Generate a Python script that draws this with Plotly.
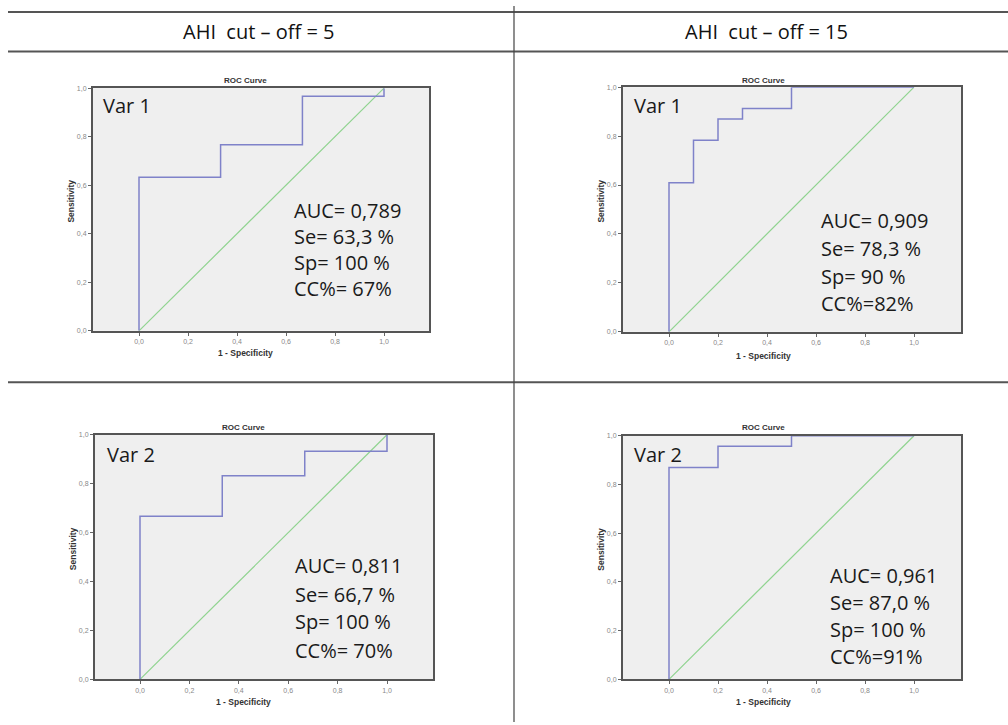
import plotly.graph_objects as go

W, H = 1008, 725

# ---------------- data ----------------
headers = ["AHI  cut – off = 5", "AHI  cut – off = 15"]
panel_labels = ["Var 1", "Var 1", "Var 2", "Var 2"]
chart_title = "ROC Curve"
x_title = "1 - Specificity"
y_title = "Sensitivity"
tick_vals = [0.0, 0.2, 0.4, 0.6, 0.8, 1.0]
tick_text = ["0,0", "0,2", "0,4", "0,6", "0,8", "1,0"]

# ROC corner points (1 - specificity, sensitivity), drawn as steps
fpr_c5_var1 = [0.0, 0.0, 0.333, 0.667, 1.0]
tpr_c5_var1 = [0.0, 0.633, 0.767, 0.967, 1.0]
fpr_c15_var1 = [0.0, 0.0, 0.1, 0.2, 0.3, 0.5, 1.0]
tpr_c15_var1 = [0.0, 0.609, 0.783, 0.870, 0.913, 1.0, 1.0]
fpr_c5_var2 = [0.0, 0.0, 0.333, 0.667, 1.0]
tpr_c5_var2 = [0.0, 0.667, 0.833, 0.933, 1.0]
fpr_c15_var2 = [0.0, 0.0, 0.2, 0.5, 1.0]
tpr_c15_var2 = [0.0, 0.870, 0.957, 1.0, 1.0]

ref_x = [0.0, 1.0]
ref_y = [0.0, 1.0]

stats_c5_var1 = ["AUC= 0,789", "Se= 63,3 %", "Sp= 100 %", "CC%= 67%"]
stats_c15_var1 = ["AUC= 0,909", "Se= 78,3 %", "Sp= 90 %", "CC%=82%"]
stats_c5_var2 = ["AUC= 0,811", "Se= 66,7 %", "Sp= 100 %", "CC%= 70%"]
stats_c15_var2 = ["AUC= 0,961", "Se= 87,0 %", "Sp= 100 %", "CC%=91%"]

curves = [
    (fpr_c5_var1, tpr_c5_var1, stats_c5_var1),
    (fpr_c15_var1, tpr_c15_var1, stats_c15_var1),
    (fpr_c5_var2, tpr_c5_var2, stats_c5_var2),
    (fpr_c15_var2, tpr_c15_var2, stats_c15_var2),
]

# ---------------- layout geometry (pixels) ----------------
panels = [
    dict(x0=93, x1=429, top=85, bot=330, o=139, e=384, tx=245, ty=77, stx=292, sty=[209, 235, 261, 287], vx=101, vy=102, xt=352),
    dict(x0=623, x1=961, top=84, bot=331, o=669, e=914, tx=763, ty=77, stx=819, sty=[219, 247, 275, 302], vx=632, vy=102, xt=355),
    dict(x0=95, x1=433, top=435, bot=682, o=140, e=387, tx=243, ty=428, stx=293, sty=[567, 596, 624, 653], vx=105, vy=455, xt=705),
    dict(x0=623, x1=961, top=436, bot=682, o=669, e=914, tx=763, ty=428, stx=828, sty=[577, 604, 632, 659], vx=632, vy=455, xt=705),
]


def px(x):
    return x / W


def py(y):
    return 1 - y / H


fig = go.Figure()
annotations = []
layout_axes = {}

text_font = "Open Sans, Lato, sans-serif"
small_font = "Liberation Sans, Arial, sans-serif"

for i, (p, (fx, fy, stats)) in enumerate(zip(panels, curves)):
    n = "" if i == 0 else str(i + 1)
    xa, ya = "x" + n, "y" + n
    fig.add_trace(go.Scatter(x=ref_x, y=ref_y, mode="lines", xaxis=xa, yaxis=ya,
                             line=dict(color="#8fd38f", width=1.2), showlegend=False, hoverinfo="skip"))
    fig.add_trace(go.Scatter(x=fx, y=fy, mode="lines", line_shape="hv", xaxis=xa, yaxis=ya,
                             line=dict(color="#7f82c9", width=1.5), showlegend=False))
    unit = p["e"] - p["o"]
    xr = [(p["x0"] - p["o"]) / unit, (p["x1"] - p["o"]) / unit]
    common = dict(showline=True, linecolor="#555555", linewidth=2, mirror=True,
                  showgrid=False, zeroline=False, ticks="outside", ticklen=3,
                  tickcolor="#666666", tickwidth=1,
                  tickvals=tick_vals, ticktext=tick_text,
                  tickfont=dict(family=small_font, size=7, color="#888888"))
    layout_axes["xaxis" + n] = dict(common, domain=[px(p["x0"]), px(p["x1"])], range=xr,
                                    anchor=ya, fixedrange=True)
    layout_axes["yaxis" + n] = dict(common, domain=[py(p["bot"]), py(p["top"])], range=[0, 1],
                                    anchor=xa, fixedrange=True)
    # titles
    annotations.append(dict(text="<b>" + chart_title + "</b>", x=px(p["tx"]), y=py(p["ty"]),
                            xref="paper", yref="paper", showarrow=False, xanchor="center", yanchor="middle",
                            font=dict(family=small_font, size=8, color="#333333")))
    annotations.append(dict(text="<b>" + x_title + "</b>", x=px(p["tx"]), y=py(p["xt"]),
                            xref="paper", yref="paper", showarrow=False, xanchor="center", yanchor="middle",
                            font=dict(family=small_font, size=8.5, color="#333333")))
    annotations.append(dict(text="<b>" + y_title + "</b>", x=px(p["x0"] - 22), y=py((p["top"] + p["bot"]) / 2 - 8),
                            xref="paper", yref="paper", showarrow=False, xanchor="center", yanchor="middle",
                            textangle=-90, font=dict(family=small_font, size=8.5, color="#333333")))
    annotations.append(dict(text=panel_labels[i], x=px(p["vx"]), y=py(p["vy"]),
                            xref="paper", yref="paper", showarrow=False, xanchor="left", yanchor="middle",
                            font=dict(family=text_font, size=20, color="#1a1a1a")))
    for line, yy in zip(stats, p["sty"]):
        annotations.append(dict(text=line, x=px(p["stx"]), y=py(yy),
                                xref="paper", yref="paper", showarrow=False, xanchor="left", yanchor="middle",
                                font=dict(family=text_font, size=20, color="#1a1a1a")))

# header texts
for htxt, cx in zip(headers, [258, 766]):
    annotations.append(dict(text=htxt, x=px(cx), y=py(28), xref="paper", yref="paper",
                            showarrow=False, xanchor="center", yanchor="middle",
                            font=dict(family=text_font, size=20, color="#111111")))

shapes = [
    dict(type="line", xref="paper", yref="paper", x0=px(8), x1=px(1008), y0=py(8), y1=py(8),
         line=dict(color="#555555", width=2)),
    dict(type="line", xref="paper", yref="paper", x0=px(8), x1=px(1008), y0=py(48), y1=py(48),
         line=dict(color="#555555", width=2)),
    dict(type="line", xref="paper", yref="paper", x0=px(8), x1=px(1008), y0=py(382), y1=py(382),
         line=dict(color="#555555", width=2)),
    dict(type="line", xref="paper", yref="paper", x0=px(514), x1=px(514), y0=py(2), y1=py(725),
         line=dict(color="#444444", width=1.2)),
]

fig.update_layout(
    width=W, height=H, margin=dict(l=0, r=0, t=0, b=0),
    paper_bgcolor="white", plot_bgcolor="#efefef",
    showlegend=False, annotations=annotations, shapes=shapes,
    **layout_axes,
)

fig.write_html("out.html", config={"displayModeBar": False},
               post_script="document.body.style.margin='0';")
